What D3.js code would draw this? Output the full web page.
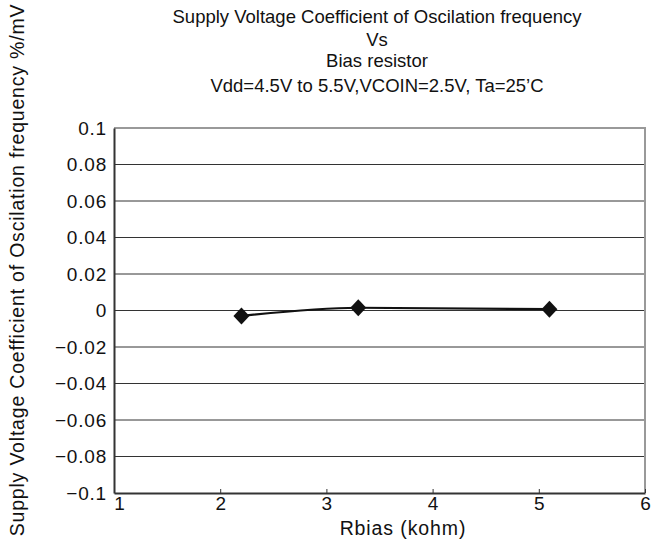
<!DOCTYPE html>
<html>
<meta charset="UTF-8">
<script src="https://d3js.org/d3.v7.min.js"></script>
<style>
    body { margin: 0; background: #fff; }
    text { font-family: "Liberation Sans", Arial, sans-serif; fill: #111; }
</style>
<body>
<svg width="653" height="540"></svg>
<script>
    // data
    var rbias = [2.2, 3.3, 5.1];
    var coeff = [-0.003, 0.0015, 0.0007];
    var xTicks = [1, 2, 3, 4, 5, 6];
    var yTicks = [-0.1, -0.08, -0.06, -0.04, -0.02, 0, 0.02, 0.04, 0.06, 0.08, 0.1];
    var titleLines = ["Supply Voltage Coefficient of Oscilation frequency", "Vs", "Bias resistor",
        "Vdd=4.5V to 5.5V,VCOIN=2.5V, Ta=25\u2019C"];

    var svg = d3.select("svg"),
        margin = { top: 128, right: 8, bottom: 47, left: 114 },
        width = +svg.attr("width") - margin.left - margin.right,
        height = +svg.attr("height") - margin.top - margin.bottom;

    var x = d3.scaleLinear().domain([1, 6]).range([0, width]);
    var y = d3.scaleLinear().domain([-0.1, 0.1]).range([height, 0]);
    var fmt = function(d) { return d === 0 ? "0" : d3.format(".2~f")(d).replace("-", "\u2212"); };

    var g = svg.append("g").attr("transform", `translate(${margin.left},${margin.top})`);

    // grid lines
    g.selectAll(".grid").data(yTicks.slice(1, -1)).enter().append("line")
        .attr("x1", 0).attr("x2", width)
        .attr("y1", d => y(d)).attr("y2", d => y(d))
        .attr("stroke", "#333").attr("stroke-width", 1);

    // frame top / right
    g.append("path").attr("d", `M0,0H${width}V${height}`)
        .attr("fill", "none").attr("stroke", "#999").attr("stroke-width", 2);

    var ya = g.append("g").call(d3.axisLeft(y).tickValues(yTicks).tickFormat(fmt).tickSize(0).tickPadding(7));
    ya.attr("font-size", null).attr("font-family", null);
    ya.select(".domain").attr("stroke", "#333").attr("stroke-width", 2);
    ya.selectAll(".tick text").attr("fill", "#111")
        .style("font-size", "19px").style("letter-spacing", "0.8px");

    var xa = g.append("g").attr("transform", `translate(0,${height})`)
        .call(d3.axisBottom(x).tickValues(xTicks).tickFormat(d3.format("d")).tickSizeInner(-4).tickSizeOuter(0).tickPadding(4));
    xa.attr("font-size", null).attr("font-family", null);
    xa.select(".domain").attr("stroke", "#333").attr("stroke-width", 2);
    xa.selectAll(".tick line").attr("stroke", "#333");
    xa.selectAll(".tick text").attr("fill", "#111")
        .style("font-size", "19px");
    xa.selectAll(".tick").filter(d => d === 1).select("text").attr("dx", 5);

    var pts = rbias.map((r, i) => [r, coeff[i]]);
    g.append("path").datum(pts)
        .attr("fill", "none").attr("stroke", "#111").attr("stroke-width", 2.2)
        .attr("d", d3.line().x(d => x(d[0])).y(d => y(d[1])).curve(d3.curveMonotoneX));

    // diamond markers
    g.selectAll(".pt").data(pts).enter().append("path")
        .attr("transform", d => `translate(${x(d[0])},${y(d[1])})`)
        .attr("d", "M0,-8.5L8,0L0,8.5L-8,0Z")
        .attr("fill", "#111");

    // titles
    svg.selectAll(".title").data(titleLines).enter().append("text")
        .attr("x", 377).attr("y", (d, i) => [23, 46, 67, 92][i])
        .attr("text-anchor", "middle").style("font-size", "18.5px")
        .text(d => d);

    svg.append("text")
        .attr("x", 403).attr("y", 535)
        .attr("text-anchor", "middle").style("font-size", "19.5px").style("letter-spacing", "0.9px")
        .text("Rbias (kohm)");

    svg.append("text")
        .attr("transform", "translate(24,270) rotate(-90)")
        .attr("text-anchor", "middle").style("font-size", "19.5px").style("letter-spacing", "0.8px")
        .text("Supply Voltage Coefficient of Oscilation frequency %/mV");
</script>
</body>
</html>
